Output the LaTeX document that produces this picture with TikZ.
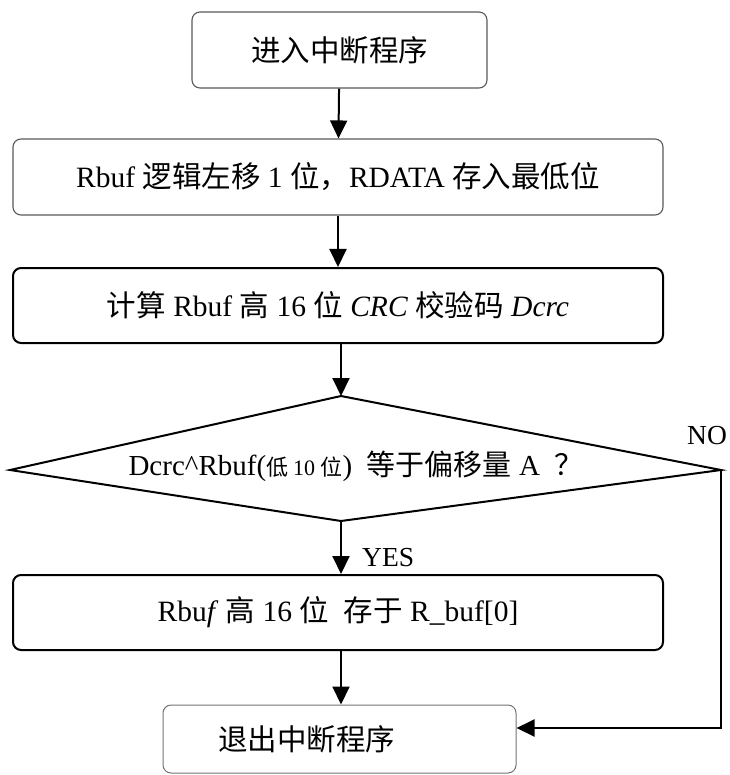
\documentclass[tikz,border=0pt]{standalone}
\usepackage{fontspec}
\setmainfont{Liberation Serif}
\newfontfamily\cjk{Noto Sans CJK SC}
\usetikzlibrary{arrows.meta}
\tikzset{
  thinbox/.style={draw=black!65, line width=1.1pt, rounded corners=8pt, inner sep=0pt, font=\fontsize{29.5}{32}\selectfont},
  thickbox/.style={draw=black, line width=2pt, rounded corners=8pt, inner sep=0pt, font=\fontsize{29.5}{32}\selectfont},
  flow/.style={line width=2pt, -{Triangle[length=18pt,width=17pt]}},
  lbl/.style={font=\fontsize{27.5}{30}\selectfont, inner sep=0pt}
}
\begin{document}
\begin{tikzpicture}[x=1pt,y=-1pt]
\useasboundingbox (0,0) rectangle (729,775);
\node[thinbox, minimum width=295, minimum height=76] (b1) at (339.5,50) {\cjk 进入中断程序};
\node[thinbox, minimum width=650, minimum height=76] (b2) at (338,177) {Rbuf {\cjk 逻辑左移} 1 {\cjk 位，}RDATA {\cjk 存入最低位}};
\node[thickbox, minimum width=650, minimum height=75] (b3) at (338,305.5) {{\cjk 计算} Rbuf {\cjk 高} 16 {\cjk 位} \textit{CRC} {\cjk 校验码} \textit{Dcrc}};
\coordinate (dt) at (341,396);
\coordinate (dl) at (10,470);
\coordinate (dr) at (721,470);
\coordinate (db) at (341,521);
\draw[line width=2pt, line join=miter] (dt) -- (dr) -- (db) -- (dl) -- cycle;
\node[inner sep=0pt, font=\fontsize{29}{32}\selectfont] (dtext) at (356,466) {Dcrc\^{}Rbuf({\fontsize{22}{26}\selectfont\cjk 低 \rmfamily 10 \cjk 位}) \ {\cjk 等于偏移量} A \ {\cjk ？}};
\node[thickbox, minimum width=650, minimum height=75] (b4) at (338,612.5) {Rbu\textit{f} {\cjk 高} 16 {\cjk 位} \ {\cjk 存于} R\_buf[0]};
\node[draw=black!55, line width=1pt, rounded corners=8pt, minimum width=353, minimum height=68, inner xsep=55pt, inner ysep=0pt, text width=243pt, align=left, font=\fontsize{29.5}{32}\selectfont] (b5) at (339.5,739) {\cjk 退出中断程序};
\draw[flow] (b1) -- (b2);
\draw[flow] (b2) -- (b3);
\draw[flow] (b3.south -| dt) -- (dt);
\draw[flow] (db) -- (b4.north -| db);
\draw[flow] (b4.south -| db) -- (b5.north -| db);
\coordinate (nocorner) at (721,728);
\draw[flow] (dr) -- (nocorner) -- (b5.east |- nocorner);
\node[lbl, anchor=west] (yes) at (362,558) {YES};
\node[lbl, anchor=west] (no) at (687,436) {NO};
\end{tikzpicture}
\end{document}
